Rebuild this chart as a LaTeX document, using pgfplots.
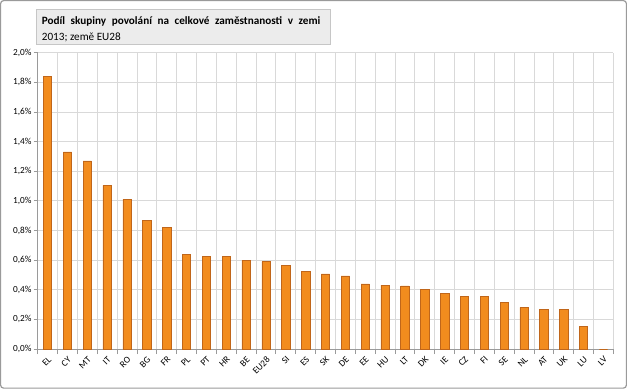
\documentclass[border=0pt]{standalone}
\usepackage{pgfplots}
\pgfplotsset{compat=1.18}
\usepackage{fontspec}
\setmainfont{Carlito}
\definecolor{barfill}{HTML}{F28C1E}
\definecolor{barline}{HTML}{C0661A}
\definecolor{gridc}{HTML}{D9D9D9}
\definecolor{axisc}{HTML}{9A9A9A}
\begin{document}
\begin{tikzpicture}[x=1bp,y=1bp]
\draw[color=axisc, line width=1.2bp, rounded corners=3bp] (1,1) rectangle (626,388);
\draw[fill=gray!15, draw=gray!45, line width=0.6bp] (37,344) rectangle (330,379);
\node[anchor=west, inner sep=0pt, font=\fontsize{11.2}{13}\selectfont\bfseries] at (42,367.5) {\spaceskip=0.5em Podíl skupiny povolání na celkové zaměstnanosti v zemi};
\node[anchor=west, inner sep=0pt, font=\fontsize{11.2}{13}\selectfont] at (42,351.5) {2013; země EU28};
\begin{axis}[
  at={(38bp,40bp)}, anchor=south west,
  scale only axis, width=575bp, height=296bp,
  xmin=-0.5, xmax=28.5, ymin=0, ymax=2.0,
  axis lines=left, axis line style={-, color=axisc, line width=0.8bp},
  xtick={0,...,28},
  xticklabels={EL,CY,MT,IT,RO,BG,FR,PL,PT,HR,BE,EU28,SI,ES,SK,DE,EE,HU,LT,DK,IE,CZ,FI,SE,NL,AT,UK,LU,LV},
  major x tick style={draw=none},
  minor xtick={-0.5,0.5,...,28.5},
  xminorgrids, minor x grid style={gridc, line width=0.8bp},
  minor x tick style={axisc, line width=0.8bp},
  minor tick length=5bp,
  x tick label style={rotate=45, anchor=north east, inner sep=0.5bp, font=\fontsize{9.3}{10}\selectfont},
  ytick={0,0.2,...,2.0},
  ymajorgrids, major y grid style={gridc, line width=0.8bp},
  major y tick style={axisc, line width=0.8bp},
  major tick length=4bp,
  tick align=outside,
  /pgf/number format/assume math mode=true,
  yticklabel={\pgfmathprintnumber[fixed,fixed zerofill,precision=1,use comma]{\tick}\%},
  y tick label style={font=\fontsize{9.3}{10}\selectfont, inner sep=2bp},
  ybar, bar width=8.3bp,
  xticklabel shift=2bp,
  clip=false,
]
\addplot[fill=barfill, draw=barline, line width=0.6bp] coordinates {
(0,1.84) (1,1.33) (2,1.27) (3,1.105) (4,1.01) (5,0.87) (6,0.82) (7,0.64) (8,0.626) (9,0.626)
(10,0.597) (11,0.59) (12,0.565) (13,0.522) (14,0.507) (15,0.493) (16,0.44) (17,0.432) (18,0.426)
(19,0.403) (20,0.374) (21,0.353) (22,0.353) (23,0.313) (24,0.282) (25,0.268) (26,0.268) (27,0.151) (28,0)
};
\end{axis}
\end{tikzpicture}
\end{document}
